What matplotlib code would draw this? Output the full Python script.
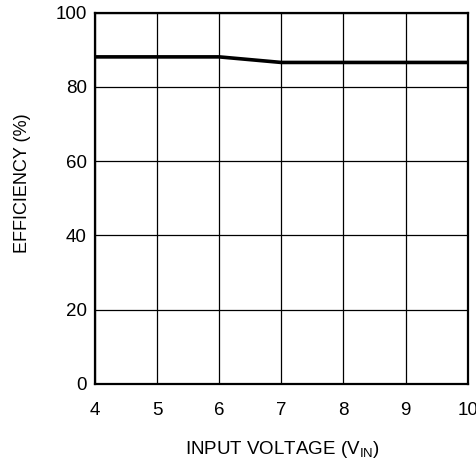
import numpy as np
from matplotlib import pyplot as plt

plt.rcParams['font.family'] = ['Liberation Sans', 'DejaVu Sans']

# efficiency curve
vin = [4, 5, 6, 7, 8, 9, 10]
efficiency = [88.1, 88.1, 88.1, 86.6, 86.6, 86.6, 86.6]

xticks = [4, 5, 6, 7, 8, 9, 10]
yticks = [0, 20, 40, 60, 80, 100]

fig = plt.figure(figsize=(4.77, 4.68), dpi=100)
ax = fig.add_axes([95/477, 1 - 384/468, (467.7 - 95)/477, (384 - 12.7)/468])

ax.plot(vin, efficiency, color="black", linewidth=2.6, solid_capstyle="butt")

ax.set_xlim(4, 10)
ax.set_ylim(0, 100)
ax.set_xticks(xticks)
ax.set_yticks(yticks)
ax.grid(True, color="black", linewidth=0.9)
ax.tick_params(length=0, labelsize=13.5)
ax.tick_params(axis="x", pad=13)
ax.tick_params(axis="y", pad=6)
for s in ax.spines.values():
    s.set_linewidth(1.6)

fig.text(282/477, 1 - 450/468, "INPUT VOLTAGE (V$_{\\mathregular{IN}}$)", ha="center", va="center", fontsize=13.5)
fig.text(23/477, 1 - 183/468, "EFFICIENCY (%)", ha="center", va="center", rotation=90, fontsize=13)

fig.savefig("out.png", dpi=100)
